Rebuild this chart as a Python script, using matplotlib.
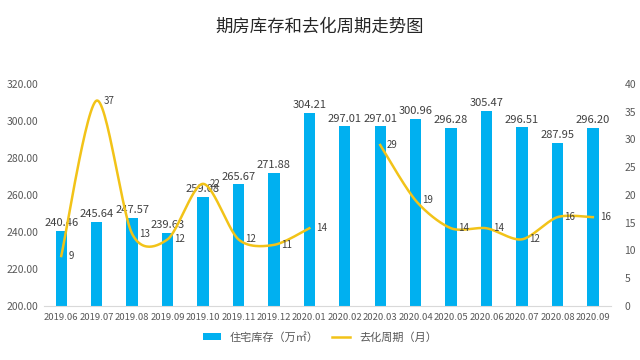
import numpy as np
import matplotlib
matplotlib.use("Agg")
import matplotlib.pyplot as plt

plt.rcParams['font.family'] = ['Noto Sans CJK SC', 'DejaVu Sans']

# 数据
meses = ["2019.06", "2019.07", "2019.08", "2019.09", "2019.10", "2019.11", "2019.12", "2020.01",
         "2020.02", "2020.03", "2020.04", "2020.05", "2020.06", "2020.07", "2020.08", "2020.09"]
estoque = [240.46, 245.64, 247.57, 239.63, 259.08, 265.67, 271.88, 304.21,
           297.01, 297.01, 300.96, 296.28, 305.47, 296.51, 287.95, 296.20]
ciclo = [9, 37, 13, 12, 22, 12, 11, 14, None, 29, 19, 14, 14, 12, 16, 16]

azul = "#00B0F0"
amarelo = "#F2C318"
cinza = "#595959"


def suave(xs, ys, n=30, k=7.0):
    # curva suavizada tipo Excel (Bezier)
    xs = np.asarray(xs, float)
    ys = np.asarray(ys, float)
    px, py = [], []
    for i in range(len(xs) - 1):
        x0, y0 = (xs[i - 1], ys[i - 1]) if i > 0 else (xs[i], ys[i])
        x1, y1 = xs[i], ys[i]
        x2, y2 = xs[i + 1], ys[i + 1]
        x3, y3 = (xs[i + 2], ys[i + 2]) if i + 2 < len(xs) else (x2, y2)
        c1x, c1y = x1 + (x2 - x0) / k, y1 + (y2 - y0) / k
        c2x, c2y = x2 - (x3 - x1) / k, y2 - (y3 - y1) / k
        t = np.linspace(0, 1, n)
        bx = (1 - t)**3 * x1 + 3 * (1 - t)**2 * t * c1x + 3 * (1 - t) * t**2 * c2x + t**3 * x2
        by = (1 - t)**3 * y1 + 3 * (1 - t)**2 * t * c1y + 3 * (1 - t) * t**2 * c2y + t**3 * y2
        px.extend(bx)
        py.extend(by)
    return px, py


fig = plt.figure(figsize=(6.4, 3.6), dpi=100)
ax = fig.add_axes([0.068, 0.15, 0.886, 0.617])
x = np.arange(len(meses))

ax.bar(x, estoque, width=0.32, color=azul, label="住宅库存（万㎡）", zorder=2)
for xi, v in zip(x, estoque):
    ax.text(xi, v + 1.5, f"{v:.2f}", ha="center", va="bottom", fontsize=8, color="#404040", zorder=4)

ax.set_ylim(200, 320)
ax.set_yticks(np.arange(200, 321, 20))
ax.set_yticklabels([f"{v:.2f}" for v in np.arange(200, 321, 20)])
ax.set_xlim(-0.5, len(meses) - 0.5)
ax.set_xticks(x)
ax.set_xticklabels(meses)
ax.tick_params(axis="both", length=0, labelsize=7.5, colors=cinza)
ax.tick_params(axis="x", pad=5, labelsize=6.8)
for s in ["top", "right", "left"]:
    ax.spines[s].set_visible(False)
ax.spines["bottom"].set_color("#D9D9D9")

ax2 = ax.twinx()
ax2.set_ylim(0, 40)
ax2.set_yticks(np.arange(0, 41, 5))
ax2.tick_params(axis="y", length=0, labelsize=7.5, colors=cinza, pad=10)
for s in ["top", "right", "left", "bottom"]:
    ax2.spines[s].set_visible(False)

# segmentos sem a lacuna de 2020.02
segs, atual = [], []
for xi, c in zip(x, ciclo):
    if c is None:
        if atual:
            segs.append(atual)
        atual = []
    else:
        atual.append((xi, c))
if atual:
    segs.append(atual)

for k, seg in enumerate(segs):
    sx, sy = zip(*seg)
    px, py = suave(sx, sy)
    ax2.plot(px, py, color=amarelo, lw=1.8, zorder=3, label="去化周期（月）" if k == 0 else None)

for xi, c in zip(x, ciclo):
    if c is not None:
        ax2.annotate(str(c), (xi, c), xytext=(5, 0), textcoords="offset points",
                     ha="left", va="center", fontsize=7, color="#404040")

h1, l1 = ax.get_legend_handles_labels()
h2, l2 = ax2.get_legend_handles_labels()
fig.legend(h1 + h2, l1 + l2, loc="center", bbox_to_anchor=(0.5, 0.063), ncol=2, frameon=False,
           fontsize=8, labelcolor=cinza, handlelength=1.6, handleheight=0.6, columnspacing=1.2)

fig.suptitle("期房库存和去化周期走势图", x=0.5, y=0.95, fontsize=12.5, color="#262626")

fig.savefig("out.png", dpi=100)
